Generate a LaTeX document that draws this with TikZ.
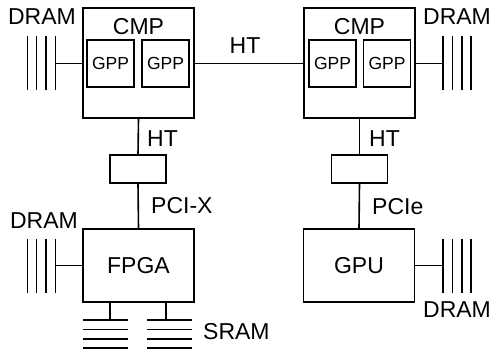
\documentclass[tikz,border=0pt]{standalone}
\usepackage{fontspec}
\setmainfont{Liberation Sans}
\usetikzlibrary{positioning,calc}
\tikzset{
  chip/.style   ={draw, line width=1.6pt, inner sep=0pt},
  cmpbox/.style ={chip, minimum width=111pt, minimum height=110pt},
  gppbox/.style ={chip, minimum width=47pt, minimum height=47pt,
                  font=\fontsize{17.5}{17.5}\selectfont},
  bridge/.style ={chip, minimum width=56pt, minimum height=28pt},
  devbox/.style ={chip, minimum width=111pt, minimum height=73pt,
                  font=\fontsize{23}{23}\selectfont},
  lbl/.style    ={inner sep=0pt, font=\fontsize{23}{23}\selectfont},
  bus/.style    ={draw, line width=1.6pt},
  wire/.style   ={draw, line width=1pt},
  bank/.style   ={draw, line width=1.5pt},
}
% four memory bars next to a wire end; #2 = +1 (bars to the right) or -1 (left)
\newcommand{\dramstack}[2]{%
  \foreach \k in {0,...,3}
    {\draw[bank] ($(#1)+(#2*\k*9.4,-27)$) -- ++(0,54);}}
% four horizontal SRAM bars hanging under a wire end
\newcommand{\sramstack}[2]{%
  \foreach \k in {0,...,3}
    {\draw[bank] ($(#1)+(#2,\k*9.4)$) -- ++(45,0);}}

\begin{document}
\begin{tikzpicture}[x=1pt, y=-1pt]
\useasboundingbox (0,0) rectangle (497,354);
% processors
\node[cmpbox] (cmpL) at (138.5,63) {};
\node[cmpbox] (cmpR) at (359.5,63) {};
\node[gppbox] (gppL1) at (110.5,63.5) {GPP};
\node[gppbox] (gppL2) at (165.5,63.5) {GPP};
\node[gppbox] (gppR1) at (332.5,63.5) {GPP};
\node[gppbox] (gppR2) at (387,63.5) {GPP};
\node[lbl, anchor=base] (cmpLlab) at (138.5,34) {CMP};
\node[lbl, anchor=base] (cmpRlab) at (359.5,34) {CMP};
% bridges and devices
\node[bridge] (brL) at (138,169) {};
\node[bridge] (brR) at (359.5,169) {};
\node[devbox] (fpga) at (138.5,265.5) {FPGA};
\node[devbox] (gpu) at (359,265.5) {GPU};
% links
\draw[wire] (cmpL.east) -- (cmpR.west);
\draw[bus] (cmpL.south) -- (brL.north);
\draw[bus] (brL.south) -- (fpga.north);
\draw[bus] (cmpR.south) -- (brR.north);
\draw[bus] (brR.south) -- (gpu.north);
\node[lbl, anchor=base] (htTop) at (245,53) {HT};
\node[lbl, anchor=base west] (htL) at (147,146) {HT};
\node[lbl, anchor=base west] (htR) at (369,146) {HT};
\node[lbl, anchor=base west] (pcix) at (151,213) {PCI-X};
\node[lbl, anchor=base west] (pcie) at (372,214) {PCIe};
% memories
\coordinate (dramA) at (55.5,63);
\coordinate (dramB) at (443,63);
\coordinate (dramC) at (55.5,265.5);
\coordinate (dramD) at (443,265.5);
\draw[wire] (cmpL.west) -- (dramA);
\draw[wire] (cmpR.east) -- (dramB);
\draw[wire] (fpga.west) -- (dramC);
\draw[wire] (gpu.east) -- (dramD);
\dramstack{dramA}{-1}
\dramstack{dramB}{1}
\dramstack{dramC}{-1}
\dramstack{dramD}{1}
\node[lbl, anchor=base] (dramAlab) at (42,24) {DRAM};
\node[lbl, anchor=base] (dramBlab) at (457,24) {DRAM};
\node[lbl, anchor=base] (dramClab) at (44,228) {DRAM};
\node[lbl, anchor=base] (dramDlab) at (457,317) {DRAM};
\coordinate (sramA) at (110,320);
\coordinate (sramB) at (166,320);
\draw[bus] (fpga.south -| sramA) -- (sramA);
\draw[bus] (fpga.south -| sramB) -- (sramB);
\sramstack{sramA}{-27}
\sramstack{sramB}{-19}
\node[lbl, anchor=base west] (sramlab) at (203,339) {SRAM};
\end{tikzpicture}
\end{document}
